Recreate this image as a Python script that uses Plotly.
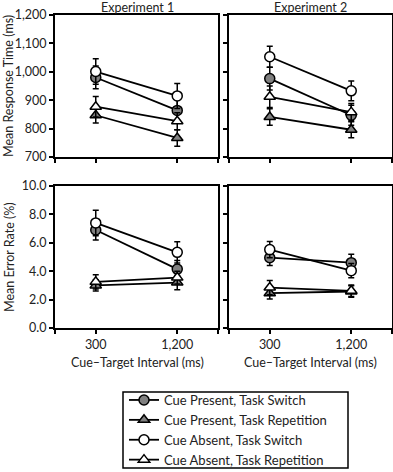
import plotly.graph_objects as go

intervals = ["300", "1,200"]
xpos = [0, 1]

series_names = ["Cue Present, Task Switch", "Cue Present, Task Repetition",
                "Cue Absent, Task Switch", "Cue Absent, Task Repetition"]

# Experiment 1 response times (ms)
rt1_cp_sw = [980, 864]
rt1_cp_rep = [847, 767]
rt1_ca_sw = [1001, 915]
rt1_ca_rep = [877, 826]
rt1_err_cp_sw = [40, 40]
rt1_err_cp_rep = [27, 29]
rt1_err_ca_sw = [45, 44]
rt1_err_ca_rep = [36, 30]

# Experiment 2 response times (ms)
rt2_cp_sw = [976, 847]
rt2_cp_rep = [841, 796]
rt2_ca_sw = [1053, 933]
rt2_ca_rep = [912, 858]
rt2_err_cp_sw = [40, 35]
rt2_err_cp_rep = [29, 28]
rt2_err_ca_sw = [37, 35]
rt2_err_ca_rep = [38, 30]

# Experiment 1 error rates (%)
er1_cp_sw = [6.9, 4.15]
er1_cp_rep = [3.0, 3.2]
er1_ca_sw = [7.4, 5.33]
er1_ca_rep = [3.25, 3.55]
er1_err_cp_sw = [0.7, 0.6]
er1_err_cp_rep = [0.4, 0.5]
er1_err_ca_sw = [0.9, 0.75]
er1_err_ca_rep = [0.5, 0.45]

# Experiment 2 error rates (%)
er2_cp_sw = [4.95, 4.6]
er2_cp_rep = [2.45, 2.57]
er2_ca_sw = [5.52, 4.04]
er2_ca_rep = [2.85, 2.62]
er2_err_cp_sw = [0.55, 0.6]
er2_err_cp_rep = [0.4, 0.4]
er2_err_ca_sw = [0.58, 0.5]
er2_err_ca_rep = [0.5, 0.4]

rt_ticks = [700, 800, 900, 1000, 1100, 1200]
rt_ticktext = ["700", "800", "900", "1,000", "1,100", "1,200"]
er_ticks = [0, 2, 4, 6, 8, 10]
er_ticktext = ["0.0", "2.0", "4.0", "6.0", "8.0", "10.0"]

GRAY = "#808080"
styles = [
    dict(symbol="circle", color=GRAY, size=10),
    dict(symbol="triangle-up", color=GRAY, size=10),
    dict(symbol="circle", color="white", size=10),
    dict(symbol="triangle-up", color="white", size=10),
]

panels = [
    ("x", "y", [rt1_cp_sw, rt1_cp_rep, rt1_ca_sw, rt1_ca_rep],
     [rt1_err_cp_sw, rt1_err_cp_rep, rt1_err_ca_sw, rt1_err_ca_rep]),
    ("x2", "y2", [rt2_cp_sw, rt2_cp_rep, rt2_ca_sw, rt2_ca_rep],
     [rt2_err_cp_sw, rt2_err_cp_rep, rt2_err_ca_sw, rt2_err_ca_rep]),
    ("x3", "y3", [er1_cp_sw, er1_cp_rep, er1_ca_sw, er1_ca_rep],
     [er1_err_cp_sw, er1_err_cp_rep, er1_err_ca_sw, er1_err_ca_rep]),
    ("x4", "y4", [er2_cp_sw, er2_cp_rep, er2_ca_sw, er2_ca_rep],
     [er2_err_cp_sw, er2_err_cp_rep, er2_err_ca_sw, er2_err_ca_rep]),
]

FONT = "Lato, 'Open Sans', sans-serif"
fig = go.Figure()
for pi, (xa, ya, vals, errs) in enumerate(panels):
    for si in range(4):
        st = styles[si]
        fig.add_trace(go.Scatter(
            x=xpos, y=vals[si], xaxis=xa, yaxis=ya,
            mode="lines+markers",
            name=series_names[si],
            showlegend=(pi == 0),
            line=dict(color="black", width=1.8),
            marker=dict(symbol=st["symbol"], size=st["size"], color=st["color"],
                        line=dict(color="black", width=1.5)),
            error_y=dict(type="data", array=errs[si], visible=True,
                         color="black", thickness=1.5, width=3),
        ))

W, H = 393, 472
ml, mr, mt, mb = 55, 1, 15, 144
pw = W - ml - mr
ph = H - mt - mb
xd1 = [0, 163 / pw]
xd2 = [174 / pw, 1]
yd_top = [(328 - 157) / ph, 1]
yd_bot = [0, (328 - 186) / ph]

TICKFONT = dict(family=FONT, size=12.5, color="#222")

def xaxis(domain, anchor, labels):
    return dict(domain=domain, anchor=anchor, range=[-0.5, 1.5],
                tickmode="array", tickvals=[-0.5, 0, 1, 1.5],
                ticktext=["", intervals[0], intervals[1], ""] if labels else ["", "", "", ""],
                showticklabels=labels,
                ticks="outside", ticklen=4, tickwidth=1.5, tickcolor="black",
                showline=True, linecolor="black", linewidth=2, mirror=True,
                showgrid=False, zeroline=False, automargin=False,
                tickfont=TICKFONT)

def yaxis(domain, anchor, rng, tv, tt, labels):
    return dict(domain=domain, anchor=anchor, range=rng,
                tickmode="array", tickvals=tv, ticktext=tt,
                showticklabels=labels,
                ticks="outside", ticklen=4, tickwidth=1.5, tickcolor="black",
                showline=True, linecolor="black", linewidth=2, mirror=True,
                showgrid=False, zeroline=False, automargin=False,
                tickfont=TICKFONT)

fig.update_layout(
    width=W, height=H,
    margin=dict(l=ml, r=mr, t=mt, b=mb, autoexpand=False),
    paper_bgcolor="white", plot_bgcolor="white",
    font=dict(family=FONT, size=12, color="#222"),
    xaxis=xaxis(xd1, "y", False),
    xaxis2=xaxis(xd2, "y2", False),
    xaxis3=xaxis(xd1, "y3", True),
    xaxis4=xaxis(xd2, "y4", True),
    yaxis=yaxis(yd_top, "x", [700, 1200], rt_ticks, rt_ticktext, True),
    yaxis2=yaxis(yd_top, "x2", [700, 1200], rt_ticks, rt_ticktext, False),
    yaxis3=yaxis(yd_bot, "x3", [0, 10], er_ticks, er_ticktext, True),
    yaxis4=yaxis(yd_bot, "x4", [0, 10], er_ticks, er_ticktext, False),
    showlegend=True,
    legend=dict(x=(124 - ml) / pw, y=(328 - 385) / ph, xanchor="left", yanchor="top",
                bgcolor="rgba(0,0,0,0)", borderwidth=0,
                font=dict(family=FONT, size=13, color="#222"),
                itemwidth=30, tracegroupgap=0),
)

def px_x(p):
    return (p - ml) / pw

def px_y(p):
    return (H - mb - p) / ph

ann = [
    dict(text="Experiment 1", x=px_x(137), y=px_y(7.5)),
    dict(text="Experiment 2", x=px_x(310), y=px_y(7.5)),
    dict(text="Cue–Target Interval (ms)", x=px_x(137), y=px_y(362)),
    dict(text="Cue–Target Interval (ms)", x=px_x(310), y=px_y(362)),
    dict(text="Mean Response Time (ms)", x=px_x(9), y=px_y(86), textangle=-90),
    dict(text="Mean Error Rate (%)", x=px_x(9), y=px_y(257), textangle=-90),
]
for a in ann:
    fig.add_annotation(xref="paper", yref="paper", showarrow=False,
                       xanchor="center", yanchor="middle",
                       font=dict(family=FONT, size=12.5, color="#222"), **a)

fig.add_shape(type="rect", xref="paper", yref="paper",
              x0=px_x(123), x1=px_x(348), y0=px_y(392), y1=px_y(468),
              line=dict(color="black", width=1.5), fillcolor="rgba(0,0,0,0)")

fig.write_html("out.html", config={"displayModeBar": False},
               post_script="document.body.style.margin='0';document.body.style.overflow='hidden';")
